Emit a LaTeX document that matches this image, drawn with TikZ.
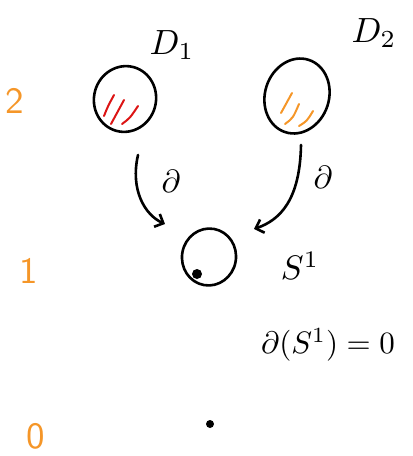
\documentclass[tikz,border=0pt]{standalone}
\usepackage{graphicx}
\usetikzlibrary{arrows.meta,shapes.geometric}
\definecolor{myorange}{RGB}{245,150,40}
\definecolor{myred}{RGB}{220,20,20}
\begin{document}
\begin{tikzpicture}[x=1pt,y=-1pt,
  ink/.style={line width=2.6pt,line cap=round,line join=round},
  hatch/.style={line width=2pt,line cap=round},
  lbl/.style={inner sep=0pt},
  num/.style={inner sep=0pt,text=myorange,font=\sffamily},
  arr/.style={ink,-{Straight Barb[length=7pt,width=14pt,line width=2.6pt]}}]
\useasboundingbox (0,0) rectangle (413,456);
% disks
\node[ink,draw,ellipse,minimum width=62pt,minimum height=66pt,inner sep=0pt,rotate=-15] (D1) at (125,99) {};
\node[ink,draw,ellipse,minimum width=64pt,minimum height=76pt,inner sep=0pt,rotate=-18] (D2) at (297,96) {};
\draw[hatch,myred] (104,116) .. controls (108,106) .. (114,95) (111,124) .. controls (118,112) .. (124,100) (122,124) .. controls (130,118) .. (138,106);
\draw[hatch,myorange] (281,113) .. controls (286,103) .. (292,93) (285,124) .. controls (293,118) .. (299,104) (299,126) .. controls (307,121) .. (313,111);
\node[lbl] (l1) at (172,45) {\scalebox{3.5}{$D_{1}$}};
\node[lbl] (l2) at (374,33) {\scalebox{3.5}{$D_{2}$}};
% circle
\node[ink,draw,ellipse,minimum width=54pt,minimum height=57pt,inner sep=0pt,rotate=-10] (S) at (209,257) {};
\fill (197,274) circle (5pt);
\node[lbl] (ls) at (300,266) {\scalebox{3.4}{$S^{1}$}};
% arrows
\coordinate (a1) at (138,155);
\coordinate (b1) at (165,224);
\coordinate (a2) at (301,145);
\coordinate (b2) at (254,229);
\draw[arr] (a1) .. controls (130,190) and (145,215) .. (b1);
\draw[arr] (a2) .. controls (300,200) and (280,220) .. (b2);
\node[lbl] (p1) at (171,181) {\scalebox{3.2}{$\partial$}};
\node[lbl] (p2) at (323,177) {\scalebox{3.2}{$\partial$}};
% equation
\node[lbl] (eq) at (328,345) {\scalebox{3.1}{$\partial(S^{1})=0$}};
% dimension labels
\node[num] (n2) at (15,101) {\scalebox{3.7}{2}};
\node[num] (n1) at (29,271) {\scalebox{3.7}{1}};
\node[num] (n0) at (36,436) {\scalebox{3.7}{0}};
\fill (210,424) circle (4pt);
\end{tikzpicture}
\end{document}
